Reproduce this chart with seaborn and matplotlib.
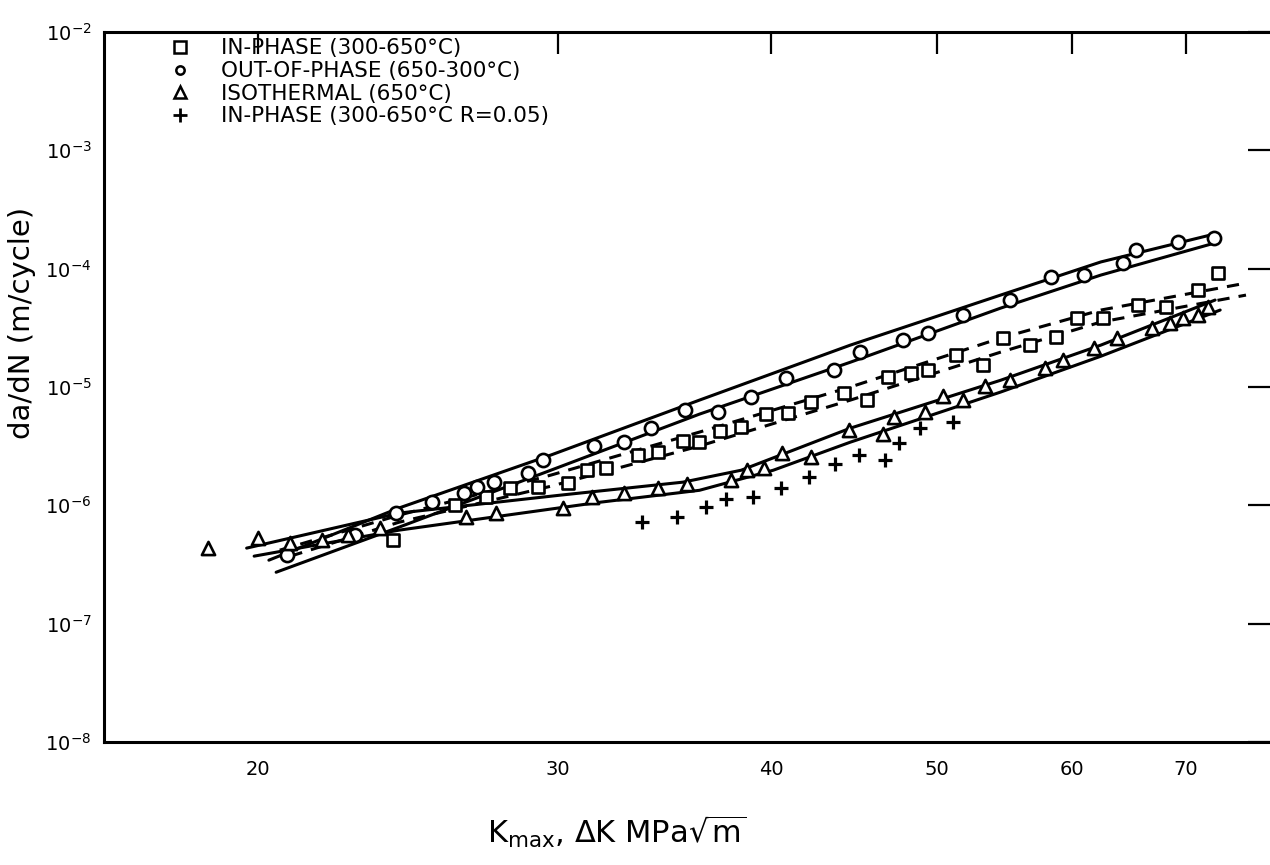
import matplotlib
matplotlib.use('Agg')
import matplotlib.pyplot as plt
import seaborn as sns
from matplotlib.lines import Line2D

# ---- data (K in MPa sqrt(m), da/dN in m/cycle) ----
inphase_k = [24.0, 26.1, 27.2, 28.1, 29.2, 30.4, 31.2, 32.0, 33.4, 34.3, 35.5, 36.3,
             37.3, 38.4, 39.7, 40.9, 42.2, 44.1, 45.5, 46.8, 48.3, 49.4, 51.3, 53.2,
             54.7, 56.7, 58.7, 60.4, 62.6, 65.6, 68.1, 71.1, 73.1]
inphase_rate = [5.1e-7, 1.0e-6, 1.17e-6, 1.40e-6, 1.43e-6, 1.54e-6, 1.98e-6, 2.06e-6,
                2.66e-6, 2.82e-6, 3.49e-6, 3.42e-6, 4.24e-6, 4.58e-6, 5.90e-6, 6.02e-6,
                7.46e-6, 8.88e-6, 7.75e-6, 1.21e-5, 1.31e-5, 1.39e-5, 1.86e-5, 1.53e-5,
                2.59e-5, 2.26e-5, 2.64e-5, 3.82e-5, 3.82e-5, 4.93e-5, 4.74e-5, 6.59e-5, 9.2e-5]

outphase_k = [20.8, 22.8, 24.1, 25.3, 26.4, 26.9, 27.5, 28.8, 29.4, 31.5, 32.8, 34.0,
              35.6, 37.2, 38.9, 40.8, 43.5, 45.1, 47.8, 49.4, 51.8, 55.2, 58.3, 61.0,
              64.3, 65.4, 69.2, 72.7]
outphase_rate = [3.8e-7, 5.6e-7, 8.6e-7, 1.06e-6, 1.27e-6, 1.43e-6, 1.57e-6, 1.87e-6,
                 2.41e-6, 3.17e-6, 3.42e-6, 4.49e-6, 6.38e-6, 6.14e-6, 8.22e-6, 1.19e-5,
                 1.39e-5, 1.97e-5, 2.49e-5, 2.86e-5, 4.05e-5, 5.43e-5, 8.49e-5, 8.83e-5,
                 1.12e-4, 1.44e-4, 1.68e-4, 1.81e-4]

iso_k = [18.7, 20.0, 20.9, 21.8, 22.6, 23.6, 26.5, 27.6, 30.2, 31.4, 32.8, 34.3, 35.7,
         37.9, 38.7, 39.6, 40.6, 42.2, 44.4, 46.5, 47.2, 49.2, 50.4, 51.8, 53.4, 55.2,
         57.9, 59.3, 61.8, 63.8, 66.9, 68.5, 69.7, 71.1, 72.1]
iso_rate = [4.35e-7, 5.3e-7, 4.8e-7, 5.1e-7, 5.6e-7, 6.4e-7, 7.95e-7, 8.6e-7, 9.5e-7,
            1.17e-6, 1.27e-6, 1.40e-6, 1.51e-6, 1.63e-6, 1.98e-6, 2.06e-6, 2.76e-6,
            2.55e-6, 4.32e-6, 4.0e-6, 5.57e-6, 6.14e-6, 8.38e-6, 7.75e-6, 1.02e-5,
            1.14e-5, 1.44e-5, 1.69e-5, 2.13e-5, 2.59e-5, 3.15e-5, 3.47e-5, 3.82e-5,
            4.05e-5, 4.74e-5]

r005_k = [33.6, 35.2, 36.6, 37.6, 39.0, 40.5, 42.1, 43.6, 45.0, 46.6, 47.5, 48.9, 51.1]
r005_rate = [7.2e-7, 7.95e-7, 9.7e-7, 1.13e-6, 1.17e-6, 1.40e-6, 1.73e-6, 2.23e-6,
             2.66e-6, 2.41e-6, 3.36e-6, 4.49e-6, 5.05e-6]

# hand-drawn scatter bands (upper / lower bound of each data set)
out_band_k = [20.3, 24.2, 29.7, 36.3, 44.5, 54.5, 62.4, 72.3]
out_band_hi = [3.44e-7, 9.5e-7, 2.66e-6, 7.75e-6, 2.26e-5, 5.98e-5, 1.14e-4, 1.92e-4]
out_band_lo_k = [20.5, 24.2, 29.7, 36.3, 44.5, 54.5, 62.4, 72.8]
out_band_lo = [2.72e-7, 6.54e-7, 1.98e-6, 5.9e-6, 1.62e-5, 4.64e-5, 8.83e-5, 1.65e-4]

in_band_k = [20.6, 24.2, 29.7, 36.3, 44.5, 54.5, 62.4, 75.9]
in_band_hi = [4.18e-7, 8.26e-7, 1.80e-6, 4.16e-6, 1.0e-5, 2.59e-5, 4.47e-5, 7.55e-5]
in_band_lo_k = [20.9, 24.2, 29.7, 36.3, 44.5, 54.5, 62.4, 75.9]
in_band_lo = [3.72e-7, 7.2e-7, 1.45e-6, 3.17e-6, 7.75e-6, 1.97e-5, 3.54e-5, 5.98e-5]

iso_band_k = [19.7, 24.2, 30.1, 35.5, 38.4, 44.5, 54.5, 62.4, 72.8]
iso_band_hi = [4.35e-7, 8.6e-7, 1.22e-6, 1.57e-6, 1.98e-6, 4.49e-6, 1.14e-5, 2.26e-5, 5.43e-5]
iso_band_lo_k = [19.9, 24.2, 31.7, 36.3, 40.1, 44.5, 54.5, 62.4, 73.3]
iso_band_lo = [3.72e-7, 6.17e-7, 1.06e-6, 1.34e-6, 1.98e-6, 3.42e-6, 9.06e-6, 1.82e-5, 4.47e-5]

x_ticks = [20, 30, 40, 50, 60, 70]
y_ticks = [1e-8, 1e-7, 1e-6, 1e-5, 1e-4, 1e-3, 1e-2]
y_labels = ['$10^{-8}$', '$10^{-7}$', '$10^{-6}$', '$10^{-5}$', '$10^{-4}$', '$10^{-3}$', '$10^{-2}$']

labels = ['IN-PHASE (300-650°C)', 'OUT-OF-PHASE (650-300°C)',
          'ISOTHERMAL (650°C)', 'IN-PHASE (300-650°C R=0.05)']

sns.set_style('white')
plt.rcParams['font.family'] = ['DejaVu Sans']
plt.rcParams['mathtext.fontset'] = 'dejavusans'
for key in ['text.color', 'axes.labelcolor', 'xtick.color', 'ytick.color', 'axes.edgecolor']:
    plt.rcParams[key] = 'black'

fig = plt.figure(figsize=(12.7, 8.65), dpi=100)
ax = fig.add_axes([104 / 1270, 1 - 742 / 865, 1166 / 1270, 710 / 865])
ax.set_xscale('log')
ax.set_yscale('log')

# bands
for kk, vv, dashed in [(out_band_k, out_band_hi, False), (out_band_lo_k, out_band_lo, False),
                       (iso_band_k, iso_band_hi, False), (iso_band_lo_k, iso_band_lo, False),
                       (in_band_k, in_band_hi, True), (in_band_lo_k, in_band_lo, True)]:
    sns.lineplot(x=kk, y=vv, estimator=None, sort=False, color='black', lw=2.2, ax=ax)
    if dashed:
        ax.lines[-1].set_dashes([4, 3])

# data points
sns.scatterplot(x=inphase_k, y=inphase_rate, marker='s', s=85, facecolor='white',
                edgecolor='black', linewidth=1.9, ax=ax, zorder=3)
sns.scatterplot(x=outphase_k, y=outphase_rate, marker='o', s=90, facecolor='white',
                edgecolor='black', linewidth=1.9, ax=ax, zorder=3)
sns.scatterplot(x=iso_k, y=iso_rate, marker='^', s=90, facecolor='white',
                edgecolor='black', linewidth=1.9, ax=ax, zorder=3)
sns.scatterplot(x=r005_k, y=r005_rate, marker='+', s=110, color='black',
                linewidth=2.3, ax=ax, zorder=3)

ax.set_xlim(16.25, 78.4)
ax.set_ylim(1e-8, 1e-2)
ax.xaxis.set_minor_locator(matplotlib.ticker.NullLocator())
ax.yaxis.set_minor_locator(matplotlib.ticker.NullLocator())
ax.set_xticks(x_ticks)
ax.set_xticklabels([str(t) for t in x_ticks])
ax.set_yticks(y_ticks)
ax.set_yticklabels(y_labels)
ax.tick_params(which='major', direction='in', length=16, width=1.6, top=True, right=True,
               labelsize=14, colors='black')
ax.tick_params(axis='x', pad=13)
ax.tick_params(axis='y', pad=9)
for side in ['left', 'bottom', 'top']:
    ax.spines[side].set_linewidth(2.2)
    ax.spines[side].set_color('black')
ax.spines['right'].set_visible(False)

ax.set_xlabel(r'K$_{\mathregular{max}}$, $\Delta$K MPa$\sqrt{\mathregular{m}}$', fontsize=22)
ax.xaxis.set_label_coords(0.44, -0.1)
ax.set_ylabel('da/dN (m/cycle)', fontsize=21)
ax.yaxis.set_label_coords(-0.058, 0.59)

handles = [
    Line2D([], [], marker='s', ls='none', mfc='white', mec='black', ms=8, mew=1.8),
    Line2D([], [], marker='o', ls='none', mfc='white', mec='black', ms=6, mew=1.8),
    Line2D([], [], marker='^', ls='none', mfc='white', mec='black', ms=8, mew=1.8),
    Line2D([], [], marker='+', ls='none', color='black', ms=10, mew=2),
]
ax.legend(handles=handles, labels=labels, loc='upper left', bbox_to_anchor=(0.047, 1.003),
          frameon=False, fontsize=15.5, handletextpad=1.3, labelspacing=0.12,
          handlelength=1.2, borderaxespad=0)

fig.savefig('out.png', dpi=100, facecolor='white')
